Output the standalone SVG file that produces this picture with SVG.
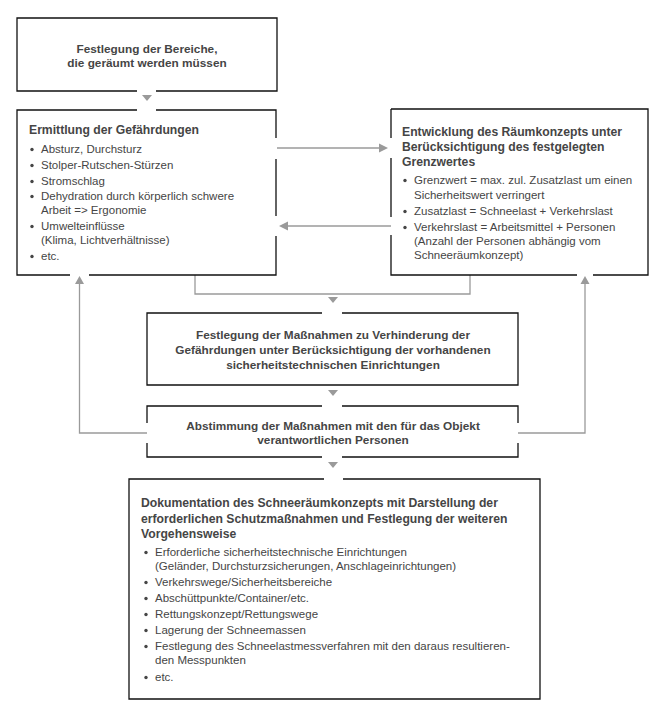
<svg xmlns="http://www.w3.org/2000/svg" width="658" height="709" viewBox="0 0 658 709">
<style>
.box{fill:none;stroke:#111;stroke-width:1.3}
.con{fill:none;stroke:#9a9a9a;stroke-width:1.3}
.ah{fill:#9a9a9a;stroke:none}
text{font-family:"Liberation Sans",Arial,sans-serif;font-size:11.5px;fill:#454545}
.t{font-weight:bold;font-size:11.8px}
.h{font-size:12.2px}
.c{text-anchor:middle}
.b{fill:#454545}
</style>
<rect width="658" height="709" fill="#fff"/>
<g id="connectors">
<polygon class="ah" points="142,95 152,95 147,101"/>
<path class="con" d="M277,148 H380"/>
<polygon class="ah" points="379,143.5 388,148 379,152.5"/>
<path class="con" d="M391,226 H287"/>
<polygon class="ah" points="288,221.5 279,226 288,230.5"/>
<path class="con" d="M195,275 V294 H470 V275"/>
<polygon class="ah" points="328,297 338,297 333,303"/>
<polygon class="ah" points="328,390 338,390 333,396"/>
<polygon class="ah" points="328,462 338,462 333,468"/>
<path class="con" d="M147,433 H79.5 V284"/>
<polygon class="ah" points="75,284 84,284 79.5,276"/>
<path class="con" d="M518,433 H585 V284"/>
<polygon class="ah" points="580.5,284 589.5,284 585,276"/>
</g>
<g id="n1">
<path class="box" d="M137,91 H17 V18 H277 V91 H156"/>
<text class="t c" x="147" y="53">Festlegung der Bereiche,</text>
<text class="t c" x="147" y="67">die geräumt werden müssen</text>
</g>
<g id="n2">
<path class="box" d="M156,110 H276 V138 M276,159 V216 M276,236 V275 H89 M70,275 H17 V110 H137"/>
<text class="t h" x="29" y="134">Ermittlung der Gefährdungen</text>
<circle class="b" cx="32" cy="149.5" r="1.7"/><text x="41" y="153">Absturz, Durchsturz</text>
<circle class="b" cx="32" cy="165.5" r="1.7"/><text x="41" y="169">Stolper-Rutschen-Stürzen</text>
<circle class="b" cx="32" cy="181.5" r="1.7"/><text x="41" y="185">Stromschlag</text>
<circle class="b" cx="32" cy="196.5" r="1.7"/><text x="41" y="200">Dehydration durch körperlich schwere</text>
<text x="41" y="214">Arbeit =&gt; Ergonomie</text>
<circle class="b" cx="32" cy="226.5" r="1.7"/><text x="41" y="230">Umwelteinflüsse</text>
<text x="41" y="244">(Klima, Lichtverhältnisse)</text>
<circle class="b" cx="32" cy="256.5" r="1.7"/><text x="41" y="260">etc.</text>
</g>
<g id="n3">
<path class="box" d="M391,109 H648 V275 H593 M577,275 H391 V235 M391,217 V158 M391,138 V109"/>
<text class="t h" x="402" y="136">Entwicklung des Räumkonzepts unter</text>
<text class="t h" x="402" y="151">Berücksichtigung des festgelegten</text>
<text class="t h" x="402" y="166">Grenzwertes</text>
<circle class="b" cx="405" cy="180.5" r="1.7"/><text x="414" y="184">Grenzwert = max. zul. Zusatzlast um einen</text>
<text x="414" y="199">Sicherheitswert verringert</text>
<circle class="b" cx="405" cy="211.5" r="1.7"/><text x="414" y="215">Zusatzlast = Schneelast + Verkehrslast</text>
<circle class="b" cx="405" cy="227.5" r="1.7"/><text x="414" y="231">Verkehrslast = Arbeitsmittel + Personen</text>
<text x="414" y="245">(Anzahl der Personen abhängig vom</text>
<text x="414" y="259">Schneeräumkonzept)</text>
</g>
<g id="n4">
<path class="box" d="M342,313 H518 V385 H147 V313 H322"/>
<text class="t c" x="333" y="339">Festlegung der Maßnahmen zu Verhinderung der</text>
<text class="t c" x="333" y="354">Gefährdungen unter Berücksichtigung der vorhandenen</text>
<text class="t c" x="333" y="369">sicherheitstechnischen Einrichtungen</text>
</g>
<g id="n5">
<path class="box" d="M342,406 H518 V423 M518,443 V457 H342 M322,457 H147 V443 M147,423 V406 H322"/>
<text class="t c" x="333" y="430">Abstimmung der Maßnahmen mit den für das Objekt</text>
<text class="t c" x="333" y="444">verantwortlichen Personen</text>
</g>
<g id="n6">
<path class="box" d="M343,479 H540 V699 H129 V479 H324"/>
<text class="t h" x="141" y="507">Dokumentation des Schneeräumkonzepts mit Darstellung der</text>
<text class="t h" x="141" y="523">erforderlichen Schutzmaßnahmen und Festlegung der weiteren</text>
<text class="t h" x="141" y="538">Vorgehensweise</text>
<circle class="b" cx="146" cy="552.5" r="1.7"/><text x="155" y="556">Erforderliche sicherheitstechnische Einrichtungen</text>
<text x="155" y="570">(Geländer, Durchsturzsicherungen, Anschlageinrichtungen)</text>
<circle class="b" cx="146" cy="582.5" r="1.7"/><text x="155" y="586">Verkehrswege/Sicherheitsbereiche</text>
<circle class="b" cx="146" cy="598.5" r="1.7"/><text x="155" y="602">Abschüttpunkte/Container/etc.</text>
<circle class="b" cx="146" cy="614.5" r="1.7"/><text x="155" y="618">Rettungskonzept/Rettungswege</text>
<circle class="b" cx="146" cy="630.5" r="1.7"/><text x="155" y="634">Lagerung der Schneemassen</text>
<circle class="b" cx="146" cy="646.5" r="1.7"/><text x="155" y="650">Festlegung des Schneelastmessverfahren mit den daraus resultieren-</text>
<text x="155" y="664">den Messpunkten</text>
<circle class="b" cx="146" cy="677.5" r="1.7"/><text x="155" y="681">etc.</text>
</g>
</svg>
